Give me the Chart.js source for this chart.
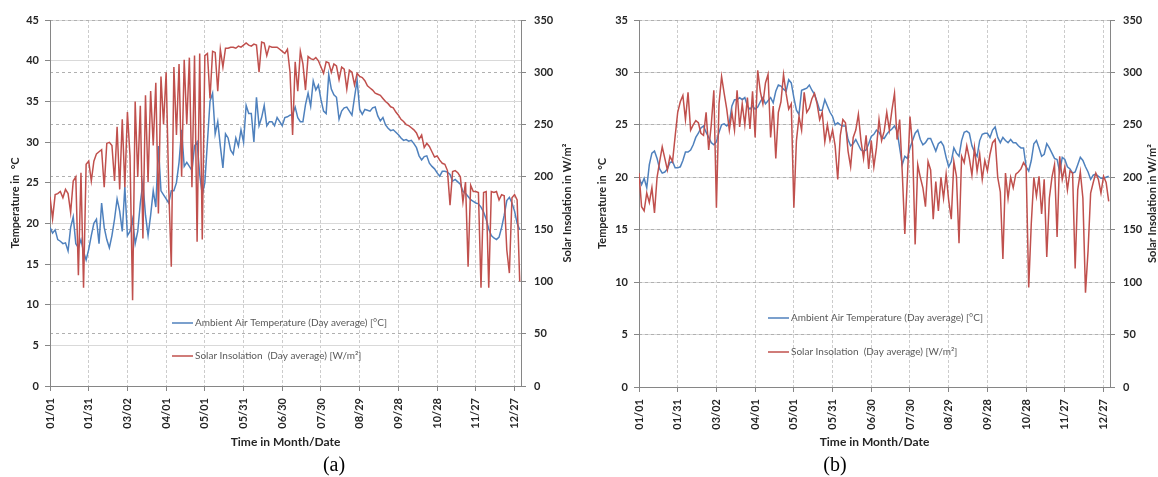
<!DOCTYPE html>
<html>
<head>
<meta charset="utf-8">
<script src="https://cdn.jsdelivr.net/npm/chart.js@4.4.1/dist/chart.umd.min.js"></script>
<style>
  body { margin: 0; background: #fff; width: 1158px; height: 477px; position: relative; overflow: hidden; }
  canvas { position: absolute; top: 0; }
  #chartA { left: 0; }
  #chartB { left: 580px; }
  .cap { position: absolute; top: 453px; width: 60px; text-align: center; font-family: 'Liberation Serif', serif; font-size: 20px; color: #000; }
</style>
</head>
<body>
<canvas id="chartA" width="580" height="455"></canvas>
<canvas id="chartB" width="578" height="455"></canvas>
<div class="cap" style="left:304px">(a)</div>
<div class="cap" style="left:805px">(b)</div>
<script>
// tick labels of the time axis, one every 30 days
const dateTicks = ['01/01', '01/31', '03/02', '04/01', '05/01', '05/31', '06/30', '07/30', '08/29', '09/28', '10/28', '11/27', '12/27'];

// values read every second day, 01/01 .. 12/31
// (a) ambient temperature, degC
const tempA = [
  19.5, 18.8, 19.2, 18.0, 17.8, 17.5, 17.6, 16.6, 19.5, 20.8,
  17.5, 17.0, 18.0, 16.5, 15.5, 16.8, 18.5, 20.0, 20.5, 17.5,
  22.5, 19.5, 18.0, 17.0, 18.5, 20.5, 23.0, 21.5, 19.0, 24.5,
  18.5, 19.0, 20.5, 17.5, 19.0, 22.5, 25.0, 21.0, 18.5, 21.0,
  24.0, 22.0, 29.5, 24.0, 23.5, 23.0, 22.5, 24.0, 24.0, 25.0,
  27.5, 31.5, 27.0, 27.5, 27.0, 26.5, 29.5, 30.0, 26.0, 23.5,
  25.0, 30.0, 35.0, 36.0, 31.0, 32.5, 29.5, 26.8, 31.0, 30.5,
  29.0, 28.5, 30.5, 29.5, 31.5, 30.0, 34.5, 33.5, 33.5, 30.0,
  35.5, 32.0, 33.0, 34.5, 32.0, 32.5, 32.5, 32.0, 33.0, 32.5,
  32.0, 33.0,
  33.1, 33.3, 33.4, 34.3, 33.0, 32.5, 32.5, 34.6, 36.0, 34.4,
  37.5, 36.4, 37.0, 35.2, 33.8, 33.5, 38.3, 36.5, 35.8, 35.5,
  32.8, 33.8, 34.2, 34.3, 33.8, 33.3, 35.5, 37.6, 34.0, 33.4,
  34.0, 33.9, 33.8, 34.2, 34.3, 33.2, 32.6, 33.0, 32.1, 31.7,
  31.4, 31.5, 31.2, 30.9, 30.5, 30.2, 30.3, 30.1, 30.2, 29.8,
  29.3, 28.3, 27.8, 28.2, 28.3, 27.4, 27.0, 26.7, 26.2, 25.8,
  26.4, 26.4, 26.3, 26.0, 25.2, 25.4, 25.1, 24.8, 23.9, 23.7,
  23.3, 22.9, 22.7, 22.5, 22.4, 22.0, 21.4, 20.5, 19.3, 18.5,
  18.2, 18.0, 18.3, 19.5, 21.0, 22.8, 23.2, 22.5, 21.5, 20.0,
  19.2
];
// (a) solar insolation, W/m2
const solarA = [
  181, 160, 183, 184, 186, 180, 188, 184, 166, 196,
  200, 106, 204, 94, 212, 215, 196, 215, 222, 224,
  226, 190, 232, 233, 230, 196, 248, 188, 255, 190,
  262, 220, 82, 272, 200, 268, 141, 278, 195, 282,
  230, 290, 165, 296, 250, 300, 190, 114, 305, 240,
  308, 200, 312, 250, 314, 190, 316, 138, 318, 140,
  316, 318, 275, 320, 319, 282, 322, 305, 323, 323,
  324, 324, 323, 325, 324, 326, 328, 326, 325, 327,
  326, 300, 329, 328, 316, 325, 324, 324, 324, 322,
  320, 318,
  322, 300, 240, 310, 282, 320, 308, 283, 315, 313,
  312, 314, 311, 305, 299, 310, 309, 300, 308, 306,
  293, 305, 303, 284, 302, 300, 288, 299, 296, 295,
  292, 287, 285, 283, 280, 279, 278, 275, 272, 270,
  267, 266, 262, 259, 255, 253, 250, 249, 247, 245,
  242, 236, 240, 228, 232, 229, 224, 219, 220, 216,
  213, 212, 206, 173, 205, 206, 204, 200, 176, 195,
  114, 192, 186, 186, 185, 94, 185, 186, 94, 186,
  185, 186, 178, 183, 182, 130, 108, 180, 183, 178,
  100
];
// (b) ambient temperature, degC
const tempB = [
  20.0, 19.3, 19.9, 19.0, 21.2, 22.3, 22.5, 21.8, 20.8, 20.4,
  20.5, 20.8, 21.4, 21.5, 20.9, 20.9, 21.0, 21.6, 22.4, 22.4,
  22.6, 23.1, 23.8, 24.2, 24.7, 24.9, 24.3, 23.8, 23.3, 23.1,
  23.4, 24.3, 25.0, 25.1, 24.9, 25.2, 26.8, 27.4, 27.4, 27.6,
  27.4, 27.6, 26.8, 26.5, 26.8, 26.5, 26.7, 27.2, 27.6, 27.0,
  27.3, 27.6, 27.1, 28.2, 28.8, 28.7, 28.4, 28.2, 29.3, 29.0,
  27.6, 26.4, 26.0, 28.3, 28.4, 28.5, 28.8, 28.3, 27.9, 27.2,
  26.4, 26.4, 27.4, 26.8, 26.2, 25.8, 25.0, 25.2, 25.0, 24.9,
  24.9, 23.6, 23.0, 23.2, 23.6, 23.1, 22.6, 22.5, 22.6, 23.2,
  23.9,
  24.1, 24.5, 24.3, 23.8, 23.7, 24.1, 24.4, 24.6, 24.9, 24.4,
  22.8, 21.2, 22.0, 21.8, 22.8, 23.5, 24.2, 24.5, 23.6, 23.1,
  23.3, 23.7, 23.7, 23.1, 22.5, 23.2, 23.4, 23.0, 21.9, 21.0,
  21.5, 22.8, 22.3, 22.0, 23.5, 24.3, 24.4, 24.2, 23.0, 22.4,
  22.0, 23.5, 24.1, 24.2, 24.2, 23.8, 24.5, 24.8, 23.8, 23.3,
  23.8, 23.5, 23.3, 23.6, 23.3, 23.3, 23.0, 22.8, 22.8, 21.0,
  20.6, 21.6, 23.2, 23.5, 22.8, 22.0, 22.2, 23.2, 22.8, 22.3,
  21.8, 21.7, 20.5, 21.9, 21.7, 21.0, 20.8, 20.4, 20.5, 21.2,
  21.9, 21.6, 21.0, 20.5, 19.8, 20.2, 20.3, 20.1, 19.9, 19.9,
  20.0, 20.1
];
// (b) solar insolation, W/m2
const solarB = [
  204, 172, 168, 185, 176, 190, 166, 200, 215, 229,
  218, 207, 220, 215, 239, 262, 272, 278, 255, 281,
  245, 250, 254, 252, 242, 240, 262, 226, 250, 283,
  171, 270, 296, 280, 265, 245, 262, 245, 283, 248,
  270, 250, 276, 246, 282, 238, 302, 282, 270, 290,
  298, 238, 268, 218, 262, 272, 298, 280, 265, 270,
  171, 235, 258, 245, 281, 262, 266, 275, 280, 270,
  255, 262, 234, 250, 235, 245, 230, 198, 240, 255,
  252, 225, 210, 238, 245, 260, 235, 218, 240, 208,
  235,
  210, 228, 255, 235, 244, 262, 245, 264, 280, 236,
  255, 205, 146, 200, 258, 230, 136, 212, 200, 190,
  172, 215, 207, 160, 196, 168, 200, 180, 203, 178,
  160, 215, 201, 137, 220, 214, 230, 218, 202, 228,
  206, 222, 198, 216, 206, 222, 233, 236, 200, 186,
  122, 204, 180, 200, 190, 203, 205, 208, 214, 210,
  95, 156, 200, 182, 201, 165, 198, 124, 180, 200,
  212, 143, 220, 198, 210, 188, 206, 204, 113, 188,
  205, 180, 90, 130, 185, 195, 204, 198, 185, 201,
  195, 177
];

const tempLabel = 'Ambient Air Temperature (Day average) [°C]';
const solarLabel = 'Solar Insolation  (Day average) [W/m²]';
const blue = '#4F81BD';
const red = '#C0504D';
const axisGray = '#868686';

Chart.defaults.font.family = 'Lato';
Chart.defaults.color = '#262626';

// day of year for each sample
const sampleDays = tempA.map((_, i) => i * 2);
const toPoints = (vals) => vals.map((v, i) => ({ x: sampleDays[i], y: v }));

// in-plot legend and the upward-reading right axis title
const panelText = {
  id: 'panelText',
  afterDraw(chart, args, opts) {
    const { ctx, chartArea } = chart;
    ctx.save();
    ctx.font = '10px Lato';
    ctx.textBaseline = 'middle';
    ctx.textAlign = 'left';
    chart.data.datasets.forEach((ds, i) => {
      const [x, y] = opts.legend[i];
      ctx.strokeStyle = ds.borderColor;
      ctx.lineWidth = 1.5;
      ctx.beginPath();
      ctx.moveTo(x, y);
      ctx.lineTo(x + 21, y);
      ctx.stroke();
      ctx.fillStyle = '#595959';
      ctx.fillText(ds.label, x + 23, y);
    });
    ctx.translate(opts.rightTitleX, (chartArea.top + chartArea.bottom) / 2);
    ctx.rotate(-Math.PI / 2);
    ctx.font = 'bold 11px Lato';
    ctx.textAlign = 'center';
    ctx.fillStyle = '#262626';
    ctx.fillText('Solar Insolation in W/m²', 0, 0);
    ctx.restore();
  }
};

function makeChart(id, temps, solar, cfg) {
  const tickFont = { size: 11, weight: 'bold' };
  return new Chart(document.getElementById(id), {
    type: 'line',
    data: {
      datasets: [
        { label: tempLabel, data: toPoints(temps), borderColor: blue, backgroundColor: blue, yAxisID: 'y', order: 1 },
        { label: solarLabel, data: toPoints(solar), borderColor: red, backgroundColor: red, yAxisID: 'y1', order: 0 }
      ]
    },
    options: {
      responsive: false,
      animation: false,
      layout: { padding: { top: 20 } },
      elements: {
        point: { radius: 0 },
        line: { borderWidth: 1.5, tension: 0 }
      },
      plugins: {
        legend: { display: false },
        tooltip: { enabled: false },
        panelText: { legend: cfg.legend, rightTitleX: cfg.rightTitleX }
      },
      scales: {
        x: {
          type: 'linear',
          min: 0,
          max: 365,
          afterBuildTicks: (s) => { s.ticks = dateTicks.map((_, i) => ({ value: i * 30 })); },
          afterFit: (s) => { s.height = cfg.xHeight; },
          ticks: {
            autoSkip: false,
            minRotation: 90,
            maxRotation: 90,
            padding: 7,
            font: tickFont,
            callback: (v) => dateTicks[v / 30]
          },
          grid: { color: '#cccccc', tickLength: 5, tickColor: axisGray },
          border: { color: axisGray, dash: [3, 2] },
          title: { display: true, text: 'Time in Month/Date', font: { size: 12, weight: 'bold' }, padding: { top: 0, bottom: 6 } }
        },
        y: {
          position: 'left',
          min: 0,
          max: cfg.tempMax,
          afterFit: (s) => { s.width = cfg.leftWidth; },
          ticks: { stepSize: 5, padding: 6, font: tickFont },
          grid: { color: '#d9d9d9', tickLength: 5, tickColor: axisGray },
          border: { color: axisGray },
          title: { display: true, text: 'Temperature in  °C', font: { size: 11, weight: 'bold' }, padding: { top: cfg.titlePad } }
        },
        y1: {
          position: 'right',
          min: 0,
          max: 350,
          afterFit: (s) => { s.width = cfg.rightWidth; },
          ticks: { stepSize: 50, padding: 8, font: tickFont },
          grid: { color: '#b0b0b0', tickLength: 5, tickColor: axisGray },
          border: { color: axisGray, dash: [3, 3] }
        }
      }
    },
    plugins: [panelText]
  });
}

makeChart('chartA', tempA, solarA, {
  tempMax: 45, leftWidth: 50, rightWidth: 59, xHeight: 69, titlePad: 9,
  rightTitleX: 567, legend: [[172, 323], [172, 356]]
});
makeChart('chartB', tempB, solarB, {
  tempMax: 35, leftWidth: 59, rightWidth: 48, xHeight: 68, titlePad: 16,
  rightTitleX: 572, legend: [[188, 318], [188, 352]]
});
</script>
</body>
</html>
